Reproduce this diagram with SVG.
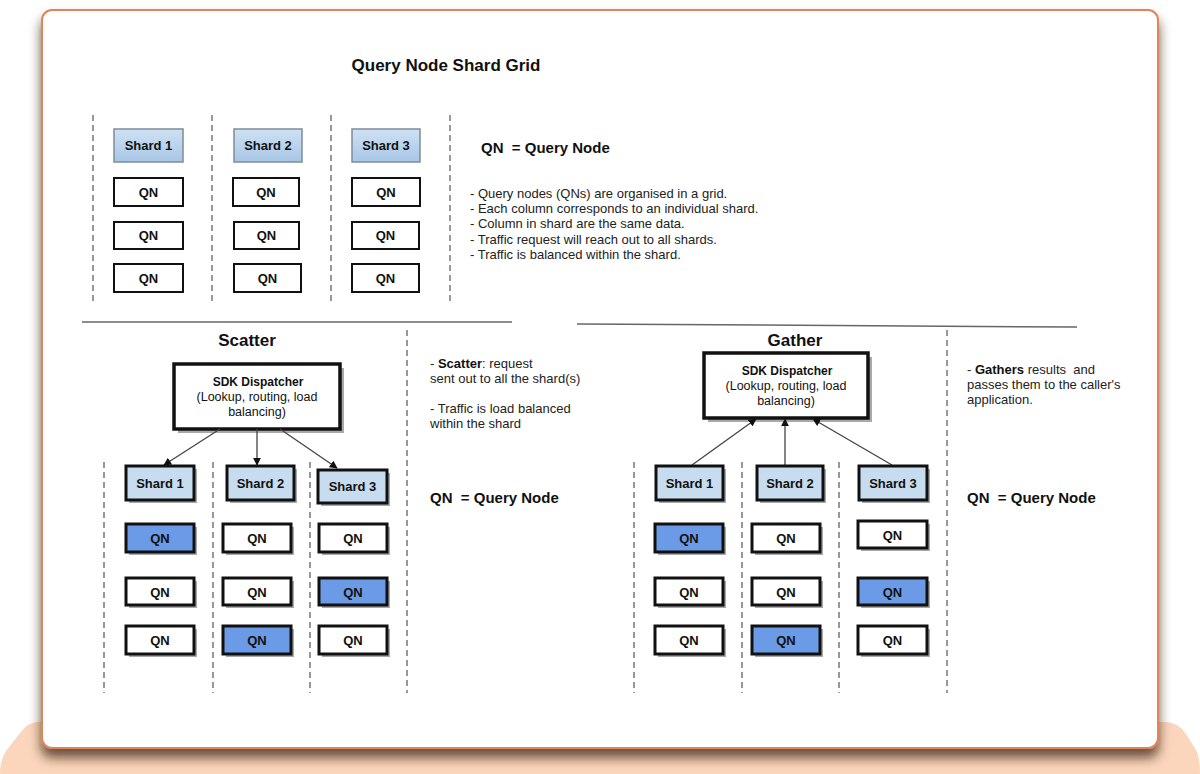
<svg xmlns="http://www.w3.org/2000/svg" width="1200" height="774" viewBox="0 0 1200 774">
<style>
text{font-family:"Liberation Sans",Arial,sans-serif;fill:#111}
.b{font-weight:bold}
.pre{white-space:pre}
.dash{stroke:#777;stroke-width:1.5;stroke-dasharray:6 4;fill:none}
.hl{stroke:#666;stroke-width:1.5}
.tshard{fill:url(#gShard);stroke:#7d8c9b;stroke-width:1.5}
.tqn{fill:#fff;stroke:#111;stroke-width:2}
.sh{fill:#a9a9a9}
.shard{fill:#c8dcf0;stroke:#111;stroke-width:3}
.qn{fill:#fff;stroke:#111;stroke-width:3}
.qnb{fill:#6b9be6;stroke:#111;stroke-width:3}
.sdk{fill:#fff;stroke:#111;stroke-width:3.5}
.lbl{font-size:13px;font-weight:bold;text-anchor:middle}
.con{stroke:#444;stroke-width:1.3;fill:none}
.note{font-size:13px;fill:#222}
</style>
<defs>
<linearGradient id="gShard" x1="0" y1="0" x2="0" y2="1">
<stop offset="0" stop-color="#cfe1f3"/><stop offset="1" stop-color="#a7c6e6"/>
</linearGradient>
<marker id="ah" viewBox="0 0 10 10" refX="9" refY="5" markerWidth="8" markerHeight="8" markerUnits="userSpaceOnUse" orient="auto">
<path d="M0,0 L10,5 L0,10 Z" fill="#111"/>
</marker>
<filter id="fs" x="-5%" y="-5%" width="110%" height="115%">
<feDropShadow dx="0" dy="9" stdDeviation="6" flood-color="#3a2214" flood-opacity="0.75"/>
</filter>
</defs>

<!-- background -->
<rect x="0" y="0" width="1200" height="774" fill="#fff"/>
<path d="M38,722 L1165,722 Q1178,722 1186,734 L1196,750 Q1200,758 1200,774 L0,774 Q0,760 6,751 L20,733 Q28,722 38,722 Z" fill="#fbd6bd"/>
<rect x="42" y="10" width="1116" height="738" rx="10" fill="#fff" stroke="#e0845a" stroke-width="2" filter="url(#fs)"/>

<!-- top section -->
<text x="446" y="71" class="b" font-size="17" text-anchor="middle">Query Node Shard Grid</text>
<g id="grid-dividers">
<line class="dash" x1="93" y1="115" x2="93" y2="305"/>
<line class="dash" x1="212" y1="115" x2="212" y2="305"/>
<line class="dash" x1="331" y1="115" x2="331" y2="305"/>
<line class="dash" x1="450" y1="115" x2="450" y2="305"/>
</g>
<g id="top-shard1"><rect class="tshard" x="114" y="129" width="69" height="33"/><text class="lbl" x="148.5" y="150">Shard 1</text></g>
<g id="top-shard2"><rect class="tshard" x="234" y="129" width="68" height="33"/><text class="lbl" x="268" y="150">Shard 2</text></g>
<g id="top-shard3"><rect class="tshard" x="352" y="129" width="68" height="33"/><text class="lbl" x="386" y="150">Shard 3</text></g>
<g id="top-qn-1-1"><rect class="tqn" x="114" y="178" width="69" height="28"/><text class="lbl" x="148.5" y="197">QN</text></g>
<g id="top-qn-1-2"><rect class="tqn" x="114" y="222" width="69" height="27"/><text class="lbl" x="148.5" y="240">QN</text></g>
<g id="top-qn-1-3"><rect class="tqn" x="114" y="264" width="69" height="28"/><text class="lbl" x="148.5" y="283">QN</text></g>
<g id="top-qn-2-1"><rect class="tqn" x="233" y="178" width="66" height="28"/><text class="lbl" x="266" y="197">QN</text></g>
<g id="top-qn-2-2"><rect class="tqn" x="234" y="222" width="65" height="27"/><text class="lbl" x="266.5" y="240">QN</text></g>
<g id="top-qn-2-3"><rect class="tqn" x="234" y="264" width="67" height="28"/><text class="lbl" x="267.5" y="283">QN</text></g>
<g id="top-qn-3-1"><rect class="tqn" x="352" y="178" width="68" height="28"/><text class="lbl" x="386" y="197">QN</text></g>
<g id="top-qn-3-2"><rect class="tqn" x="352" y="222" width="67" height="27"/><text class="lbl" x="385.5" y="240">QN</text></g>
<g id="top-qn-3-3"><rect class="tqn" x="352" y="264" width="67" height="28"/><text class="lbl" x="385.5" y="283">QN</text></g>

<text x="481" y="153" class="b pre" font-size="15">QN  = Query Node</text>
<g id="top-notes">
<text class="note" x="470" y="198">- Query nodes (QNs) are organised in a grid.</text>
<text class="note" x="470" y="213">- Each column corresponds to an individual shard.</text>
<text class="note" x="470" y="228">- Column in shard are the same data.</text>
<text class="note" x="470" y="244">- Traffic request will reach out to all shards.</text>
<text class="note" x="470" y="259">- Traffic is balanced within the shard.</text>
</g>

<g id="separators">
<line class="hl" x1="82" y1="322" x2="512" y2="322"/>
<line class="hl" x1="577" y1="324" x2="1077" y2="327"/>
</g>

<!-- Scatter -->
<text x="247" y="346" class="b" font-size="17" text-anchor="middle">Scatter</text>
<g id="scatter-dividers">
<line class="dash" x1="104" y1="462" x2="104" y2="693"/>
<line class="dash" x1="213" y1="462" x2="213" y2="693"/>
<line class="dash" x1="310" y1="462" x2="310" y2="693"/>
<line class="dash" x1="407" y1="330" x2="407" y2="693"/>
</g>
<g id="scatter-sdk">
<rect class="sh" x="178" y="368" width="166" height="65"/>
<rect class="sdk" x="174" y="364" width="166" height="65"/>
<text x="258" y="386" class="b" font-size="12" text-anchor="middle">SDK Dispatcher</text>
<text x="257" y="401" font-size="12.5" text-anchor="middle">(Lookup, routing, load</text>
<text x="257" y="416" font-size="12.5" text-anchor="middle">balancing)</text>
</g>
<g id="scatter-connectors">
<line class="con" x1="220" y1="429" x2="164" y2="465" marker-end="url(#ah)"/>
<line class="con" x1="257" y1="429" x2="257" y2="465" marker-end="url(#ah)"/>
<line class="con" x1="280" y1="429" x2="337" y2="468" marker-end="url(#ah)"/>
</g>
<g id="scatter-shard1"><rect class="sh" x="129" y="469" width="68" height="34"/><rect class="shard" x="126" y="466" width="68" height="34"/><text class="lbl" x="160" y="488">Shard 1</text></g>
<g id="scatter-shard2"><rect class="sh" x="230" y="469" width="67" height="34"/><rect class="shard" x="227" y="466" width="67" height="34"/><text class="lbl" x="260.5" y="488">Shard 2</text></g>
<g id="scatter-shard3"><rect class="sh" x="321" y="473" width="69" height="33"/><rect class="shard" x="318" y="470" width="69" height="33"/><text class="lbl" x="352.5" y="491">Shard 3</text></g>

<g id="s-qn-1-1"><rect class="sh" x="129" y="527" width="68" height="28"/><rect class="qnb" x="126" y="524" width="68" height="28"/><text class="lbl" x="160" y="543">QN</text></g>
<g id="s-qn-1-2"><rect class="sh" x="129" y="581" width="68" height="27"/><rect class="qn" x="126" y="578" width="68" height="27"/><text class="lbl" x="160" y="597">QN</text></g>
<g id="s-qn-1-3"><rect class="sh" x="129" y="629" width="68" height="28"/><rect class="qn" x="126" y="626" width="68" height="28"/><text class="lbl" x="160" y="645">QN</text></g>
<g id="s-qn-2-1"><rect class="sh" x="226" y="527" width="68" height="28"/><rect class="qn" x="223" y="524" width="68" height="28"/><text class="lbl" x="257" y="543">QN</text></g>
<g id="s-qn-2-2"><rect class="sh" x="226" y="581" width="68" height="27"/><rect class="qn" x="223" y="578" width="68" height="27"/><text class="lbl" x="257" y="597">QN</text></g>
<g id="s-qn-2-3"><rect class="sh" x="226" y="629" width="68" height="28"/><rect class="qnb" x="223" y="626" width="68" height="28"/><text class="lbl" x="257" y="645">QN</text></g>
<g id="s-qn-3-1"><rect class="sh" x="322" y="527" width="68" height="28"/><rect class="qn" x="319" y="524" width="68" height="28"/><text class="lbl" x="353" y="543">QN</text></g>
<g id="s-qn-3-2"><rect class="sh" x="322" y="581" width="68" height="27"/><rect class="qnb" x="319" y="578" width="68" height="27"/><text class="lbl" x="353" y="597">QN</text></g>
<g id="s-qn-3-3"><rect class="sh" x="322" y="629" width="68" height="28"/><rect class="qn" x="319" y="626" width="68" height="28"/><text class="lbl" x="353" y="645">QN</text></g>

<g id="scatter-notes">
<text class="note" x="430" y="368">- <tspan font-weight="bold" fill="#111">Scatter</tspan>: request</text>
<text class="note" x="430" y="383">sent out to all the shard(s)</text>
<text class="note" x="430" y="413">- Traffic is load balanced</text>
<text class="note" x="430" y="428">within the shard</text>
</g>
<text x="430" y="503" class="b pre" font-size="15">QN  = Query Node</text>

<!-- Gather -->
<text x="795" y="346" class="b" font-size="17" text-anchor="middle">Gather</text>
<g id="gather-dividers">
<line class="dash" x1="634" y1="462" x2="634" y2="693"/>
<line class="dash" x1="742" y1="462" x2="742" y2="693"/>
<line class="dash" x1="839" y1="462" x2="839" y2="693"/>
<line class="dash" x1="947" y1="330" x2="947" y2="693"/>
</g>
<g id="gather-sdk">
<rect class="sh" x="708" y="357" width="164" height="65"/>
<rect class="sdk" x="704" y="353" width="164" height="65"/>
<text x="787" y="375" class="b" font-size="12" text-anchor="middle">SDK Dispatcher</text>
<text x="786" y="390" font-size="12.5" text-anchor="middle">(Lookup, routing, load</text>
<text x="786" y="405" font-size="12.5" text-anchor="middle">balancing)</text>
</g>
<g id="gather-connectors">
<line class="con" x1="692" y1="465" x2="756" y2="419" marker-end="url(#ah)"/>
<line class="con" x1="785" y1="465" x2="785" y2="419" marker-end="url(#ah)"/>
<line class="con" x1="892" y1="465" x2="813" y2="419" marker-end="url(#ah)"/>
</g>
<g id="gather-shard1"><rect class="sh" x="659" y="469" width="67" height="34"/><rect class="shard" x="656" y="466" width="67" height="34"/><text class="lbl" x="689.5" y="488">Shard 1</text></g>
<g id="gather-shard2"><rect class="sh" x="760" y="469" width="66" height="34"/><rect class="shard" x="757" y="466" width="66" height="34"/><text class="lbl" x="790" y="488">Shard 2</text></g>
<g id="gather-shard3"><rect class="sh" x="862" y="469" width="68" height="34"/><rect class="shard" x="859" y="466" width="68" height="34"/><text class="lbl" x="893" y="488">Shard 3</text></g>

<g id="g-qn-1-1"><rect class="sh" x="658" y="527" width="68" height="28"/><rect class="qnb" x="655" y="524" width="68" height="28"/><text class="lbl" x="689" y="543">QN</text></g>
<g id="g-qn-1-2"><rect class="sh" x="658" y="581" width="68" height="27"/><rect class="qn" x="655" y="578" width="68" height="27"/><text class="lbl" x="689" y="597">QN</text></g>
<g id="g-qn-1-3"><rect class="sh" x="658" y="629" width="68" height="28"/><rect class="qn" x="655" y="626" width="68" height="28"/><text class="lbl" x="689" y="645">QN</text></g>
<g id="g-qn-2-1"><rect class="sh" x="755" y="527" width="68" height="28"/><rect class="qn" x="752" y="524" width="68" height="28"/><text class="lbl" x="786" y="543">QN</text></g>
<g id="g-qn-2-2"><rect class="sh" x="755" y="581" width="68" height="27"/><rect class="qn" x="752" y="578" width="68" height="27"/><text class="lbl" x="786" y="597">QN</text></g>
<g id="g-qn-2-3"><rect class="sh" x="755" y="629" width="68" height="28"/><rect class="qnb" x="752" y="626" width="68" height="28"/><text class="lbl" x="786" y="645">QN</text></g>
<g id="g-qn-3-1"><rect class="sh" x="861" y="524" width="69" height="27"/><rect class="qn" x="858" y="521" width="69" height="27"/><text class="lbl" x="892.5" y="540">QN</text></g>
<g id="g-qn-3-2"><rect class="sh" x="861" y="581" width="69" height="27"/><rect class="qnb" x="858" y="578" width="69" height="27"/><text class="lbl" x="892.5" y="597">QN</text></g>
<g id="g-qn-3-3"><rect class="sh" x="861" y="629" width="69" height="28"/><rect class="qn" x="858" y="626" width="69" height="28"/><text class="lbl" x="892.5" y="645">QN</text></g>

<g id="gather-notes">
<text class="note pre" x="967" y="374">- <tspan font-weight="bold" fill="#111">Gathers</tspan> results  and</text>
<text class="note" x="967" y="389">passes them to the caller's</text>
<text class="note" x="967" y="404">application.</text>
</g>
<text x="967" y="503" class="b pre" font-size="15">QN  = Query Node</text>
</svg>
